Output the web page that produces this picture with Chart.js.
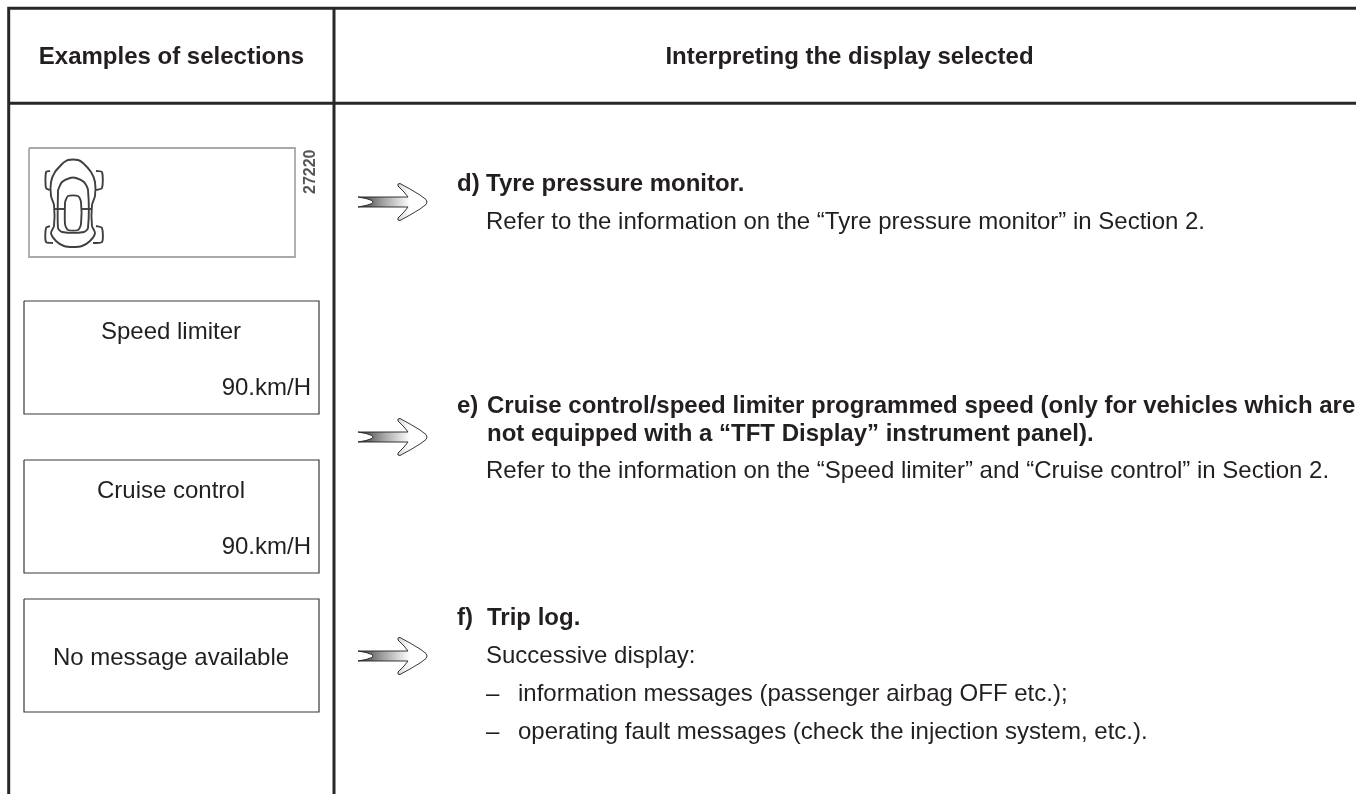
<!DOCTYPE html>
<html>
<head>
<meta charset="utf-8">
<title>Examples of selections</title>
<style>
  html, body { margin: 0; padding: 0; background: #fff; }
  canvas { display: block; }
</style>
<script src="https://cdn.jsdelivr.net/npm/chart.js@4/dist/chart.umd.js"></script>
</head>
<body>
<canvas id="MyChart" width="1356" height="794"></canvas>
<script>
// page table drawn on a scatter chart, the axes run in page pixels
const frameLines = [
    [[8.7, 794], [8.7, 8.3], [1356, 8.3]],
    [[8.7, 103.3], [1356, 103.3]],
    [[334, 8.3], [334, 794]]
];
const messageBoxes = [
    [24, 301, 319, 414],
    [24, 460, 319, 573],
    [24, 599, 319, 712]
];
const pictureBox = [29, 148, 295, 257];
const arrowRows = [202, 437, 656];
const arrowOutline = [
    [358, -5], [408, -5], [404, -10], [398, -16], [398, -18], [400, -18.5], [410, -13], [420, -7], [426, -2.5], [427, 0],
    [426, 2.5], [420, 7], [410, 13], [400, 18.5], [398, 18], [398, 16], [404, 10], [408, 5], [358, 5],
    [366, 3.5], [372, 1.5], [373, 0], [372, -1.5], [366, -3.5], [358, -5]
];
const carParts = [
    [[63, 163], [68, 160], [78, 160], [83, 163], [91, 172], [95, 182], [95, 196], [92, 205], [92, 226], [95, 233], [90, 241], [82, 246], [73, 247], [64, 246], [56, 241], [51, 233], [54, 226], [54, 205], [51, 196], [51, 182], [55, 172], [63, 163]],
    [[58, 190], [62, 182], [70, 178], [76, 178], [84, 182], [88, 190], [88, 228], [84, 232], [62, 232], [58, 228], [58, 190]],
    [[65, 202], [68, 196], [78, 196], [81, 202], [81, 224], [78, 230], [68, 230], [65, 224], [65, 202]],
    [[54, 209], [65, 209]],
    [[81, 209], [92, 209]],
    [[50, 171], [46, 172], [46, 188], [50, 190]],
    [[96, 171], [102, 172], [102, 188], [96, 190]],
    [[50, 226], [46, 228], [46, 242], [53, 243]],
    [[96, 226], [102, 228], [102, 242], [93, 243]]
];
const headerTexts = [
    ["Examples of selections", 171.5, 64, "center"],
    ["Interpreting the display selected", 849.5, 64, "center"]
];
const boldTexts = [
    ["d)", 457, 191],
    ["Tyre pressure monitor.", 486, 191],
    ["e)", 457, 413],
    ["Cruise control/speed limiter programmed speed (only for vehicles which are", 487, 413],
    ["not equipped with a “TFT Display” instrument panel).", 487, 441],
    ["f)", 457, 625],
    ["Trip log.", 487, 625]
];
const bodyTexts = [
    ["Speed limiter", 171, 339, "center"],
    ["90.km/H", 311, 395, "right"],
    ["Cruise control", 171, 498, "center"],
    ["90.km/H", 311, 554, "right"],
    ["No message available", 171, 665, "center"],
    ["Refer to the information on the “Tyre pressure monitor” in Section 2.", 486, 229],
    ["Refer to the information on the “Speed limiter” and “Cruise control” in Section 2.", 486, 478],
    ["Successive display:", 486, 663],
    ["–", 486, 701],
    ["information messages (passenger airbag OFF etc.);", 518, 701],
    ["–", 486, 739],
    ["operating fault messages (check the injection system, etc.).", 518, 739]
];
const pictureNumber = "27220";

const toPoints = (pts) => pts.map(p => ({x: p[0], y: p[1]}));
const boxPoints = (b) => toPoints([[b[0], b[1]], [b[2], b[1]], [b[2], b[3]], [b[0], b[3]], [b[0], b[1]]]);

function arrowFill(context) {
    const chart = context.chart;
    const x = chart.scales.x;
    const left = x ? x.getPixelForValue(358) : NaN;
    const right = x ? x.getPixelForValue(410) : NaN;
    if (!isFinite(left) || !isFinite(right)) return "#888888";
    const grad = chart.ctx.createLinearGradient(left, 0, right, 0);
    grad.addColorStop(0, "#3c3a3b");
    grad.addColorStop(0.5, "#a5a5a5");
    grad.addColorStop(1, "#ffffff");
    return grad;
}

const datasets = [];
frameLines.forEach(l => datasets.push({data: toPoints(l), borderColor: "#2a2728", borderWidth: 3}));
messageBoxes.forEach(b => datasets.push({data: boxPoints(b), borderColor: "#3a3839", borderWidth: 1.2}));
datasets.push({data: boxPoints(pictureBox), borderColor: "#a9a9a9", borderWidth: 1.8, soft: true});
carParts.forEach(c => datasets.push({data: toPoints(c), borderColor: "#3f3f3f", borderWidth: 1.9, tension: 0.25, soft: true}));
arrowRows.forEach(row => {
    datasets.push({
        data: arrowOutline.map(p => ({x: p[0], y: row + p[1]})),
        borderColor: "#231f20",
        borderWidth: 0.9,
        backgroundColor: arrowFill,
        fill: "shape"
    });
});

const pageText = {
    id: "pageText",
    beforeDatasetDraw(chart, args) {
        if (chart.data.datasets[args.index].soft) chart.ctx.filter = "blur(0.6px)";
    },
    afterDatasetDraw(chart) {
        chart.ctx.filter = "none";
    },
    afterDraw(chart) {
        const {ctx, scales} = chart;
        const put = (t, font) => {
            ctx.font = font;
            ctx.fillStyle = "#231f20";
            ctx.textAlign = t[3] || "left";
            ctx.textBaseline = "alphabetic";
            ctx.fillText(t[0], scales.x.getPixelForValue(t[1]), scales.y.getPixelForValue(t[2]));
        };
        ctx.save();
        headerTexts.forEach(t => put(t, 'bold 24px "Liberation Sans"'));
        boldTexts.forEach(t => put(t, 'bold 24px "Liberation Sans"'));
        bodyTexts.forEach(t => put(t, '24px "Liberation Sans"'));
        ctx.translate(scales.x.getPixelForValue(315), scales.y.getPixelForValue(194));
        ctx.rotate(-Math.PI / 2);
        ctx.filter = "blur(0.7px)";
        ctx.font = 'bold 16px "Liberation Sans"';
        ctx.fillStyle = "#555555";
        ctx.textAlign = "left";
        ctx.fillText(pictureNumber, 0, 0);
        ctx.restore();
    }
};

const myChart = new Chart(document.getElementById("MyChart"), {
    type: "scatter",
    data: {datasets: datasets},
    plugins: [pageText],
    options: {
        responsive: false,
        animation: false,
        layout: {padding: 0},
        showLine: true,
        elements: {point: {radius: 0}, line: {borderJoinStyle: "miter"}},
        plugins: {legend: {display: false}, tooltip: {enabled: false}},
        scales: {
            x: {type: "linear", min: 0, max: 1356, display: false},
            y: {type: "linear", min: 0, max: 794, reverse: true, display: false}
        }
    }
});
</script>
</body>
</html>
